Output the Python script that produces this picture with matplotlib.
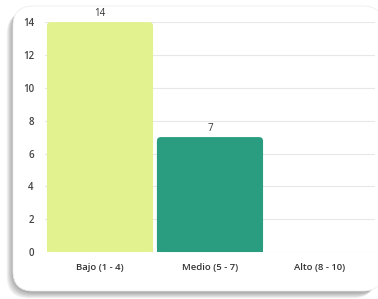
import matplotlib.pyplot as plt
from matplotlib.patches import FancyBboxPatch, Rectangle

categories = ['Bajo (1 - 4)', 'Medio (5 - 7)', 'Alto (8 - 10)']
values = [14, 7, 0]
colors = ['#e1f28e', '#2a9d80', '#2a9d80']
yticks = [0, 2, 4, 6, 8, 10, 12, 14]

plt.rcParams['font.family'] = ['Open Sans', 'DejaVu Sans']

fig = plt.figure(figsize=(3.78, 2.99), dpi=100)
fig.patch.set_facecolor('white')

# card shadow + card
for i in range(8):
    off = i * 0.9
    sh = FancyBboxPatch((13 - off, 7 - off), 368, 286,
                        boxstyle="round,pad=0,rounding_size=22",
                        transform=None, facecolor='black', alpha=0.05,
                        edgecolor='none', zorder=0)
    fig.patches.append(sh)
card = FancyBboxPatch((13, 8), 370, 285, boxstyle="round,pad=0,rounding_size=20",
                      transform=None, facecolor='white', edgecolor='#eeeeee',
                      linewidth=0.6, zorder=1)
fig.patches.append(card)

ax = fig.add_axes([0.119, 0.157, 0.873, 0.769])
ax.set_facecolor('none')
ax.set_zorder(2)

x = range(len(categories))
bars = ax.bar(x, values, width=0.965, color=colors, zorder=3)
ax.set_xlim(-0.5, 2.5)
ax.set_ylim(0, 14)

fig.canvas.draw()
# rounded tops
px = ax.transData.transform([(0, 0), (1, 1)])
sx = px[1][0] - px[0][0]
sy = px[1][1] - px[0][1]
for b in bars:
    h = b.get_height()
    if h <= 0:
        continue
    b.set_visible(False)
    r = 4.0 / sx
    rb = FancyBboxPatch((b.get_x(), 0), b.get_width(), h,
                        boxstyle=f"round,pad=0,rounding_size={r}",
                        mutation_aspect=sx / sy, facecolor=b.get_facecolor(),
                        edgecolor='none', zorder=3, clip_on=False)
    ax.add_patch(rb)
    ax.add_patch(Rectangle((b.get_x(), 0), b.get_width(), h / 2,
                           facecolor=b.get_facecolor(), edgecolor='none', zorder=3))

for i, v in enumerate(values):
    if v > 0:
        ax.text(i, v + 0.2, str(v), ha='center', va='bottom', fontsize=7,
                color='#333333', fontweight='medium')

ax.set_yticks(yticks)
ax.set_yticklabels([str(t) for t in yticks], fontsize=7, color='#444444', fontweight='semibold')
ax.set_xticks(list(x))
ax.set_xticklabels(categories, fontsize=6.8, color='#333333', fontweight='semibold')
ax.tick_params(axis='both', length=0)
ax.tick_params(axis='y', pad=8)
ax.tick_params(axis='x', pad=8)
ax.grid(axis='y', color='#e8e8e8', linewidth=0.8, zorder=0)
for s in ax.spines.values():
    s.set_visible(False)

fig.savefig('out.png', dpi=100)
